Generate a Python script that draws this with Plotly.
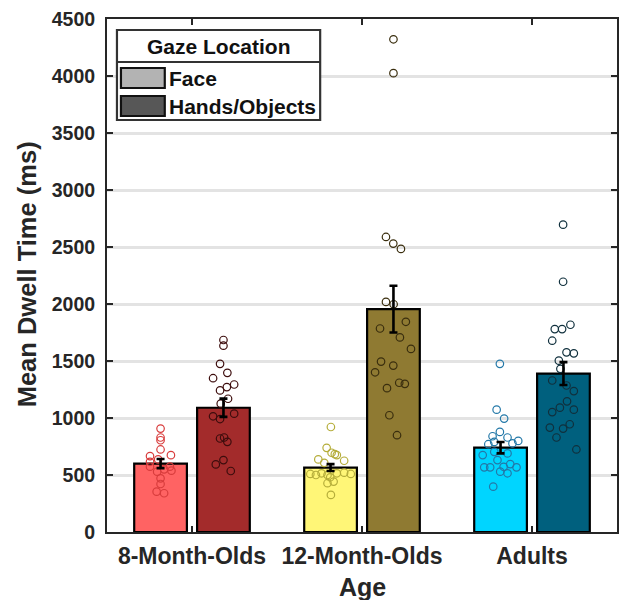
import plotly.graph_objects as go

# ---- data -------------------------------------------------------------
groups = ["8-Month-Olds", "12-Month-Olds", "Adults"]
y_ticks = [0, 500, 1000, 1500, 2000, 2500, 3000, 3500, 4000, 4500]

face_means = [600, 565, 740]
face_sem = [40, 30, 50]
hands_means = [1090, 1955, 1390]
hands_sem = [80, 205, 100]

# individual participants (ms) and their horizontal jitter (axis units)
face_8m = [907, 829, 805, 724, 666, 674, 637, 616, 573, 573, 529, 550, 538, 471, 421, 354, 340]
face_8m_jit = [0, 0, 0, 0, -0.062, 0.061, -0.014, -0.062, -0.062, 0.055, -0.02, 0.021, 0.064, 0, 0, -0.023, 0.021]
hands_8m = [1684, 1634, 1475, 1396, 1349, 1294, 1271, 1242, 1169, 1126, 1015, 991, 1038, 820, 829, 791, 631, 593, 535]
hands_8m_jit = [0, 0, -0.02, 0.023, -0.061, 0.063, 0.02, -0.02, 0.027, -0.016, -0.061, -0.02, 0.063, -0.02, 0.004, 0.023, 0, -0.045, 0.043]

face_12m = [921, 738, 695, 683, 675, 637, 625, 607, 509, 500, 515, 500, 515, 520, 509, 480, 442, 428, 325]
face_12m_jit = [0.002, -0.023, 0.006, 0.025, 0.037, -0.072, 0.08, -0.037, -0.119, -0.086, -0.053, -0.018, 0.037, 0.08, 0.119, -0.002, 0.018, -0.018, 0.002]
hands_12m = [4322, 4025, 2588, 2530, 2483, 2018, 1998, 1785, 1844, 1707, 1606, 1495, 1460, 1401, 1262, 1309, 1300, 1024, 849]
hands_12m_jit = [0, 0, -0.044, -0.001, 0.044, -0.044, 0.001, -0.079, 0.073, 0.038, 0.103, -0.073, -0.001, -0.108, -0.038, 0.034, 0.067, -0.024, 0.021]

face_ad = [1475, 1073, 995, 878, 840, 829, 799, 770, 790, 777, 675, 703, 689, 631, 567, 567, 572, 596, 567, 529, 515, 398]
face_ad_jit = [-0.004, -0.023, 0.021, -0.004, -0.047, 0.041, 0.104, -0.072, -0.037, 0.07, -0.105, -0.037, 0.041, -0.018, -0.096, -0.061, 0.018, 0.057, 0.094, -0.002, 0.041, -0.043]
hands_ad = [2696, 2195, 1780, 1780, 1818, 1678, 1576, 1567, 1503, 1431, 1329, 1285, 1236, 1146, 1091, 1052, 1073, 945, 907, 916, 829, 724]
hands_ad_jit = [-0.002, -0.002, -0.051, -0.008, 0.041, -0.066, 0.018, 0.061, -0.027, -0.018, -0.066, 0.018, 0.061, 0.021, -0.021, -0.066, 0.061, 0.037, -0.002, -0.08, -0.041, 0.076]

# ---- styling ----------------------------------------------------------
face_colors = ["#ff6363", "#fff677", "#00d5ff"]
hands_colors = ["#a32b2b", "#8f7a32", "#00607e"]
face_pt_colors = ["#d83c3c", "#b5ad3a", "#2378a8"]
hands_pt_colors = ["#3d0d0d", "#3a2e0e", "#10303d"]

BAR_W = 0.31
FACE_OFF = -0.34
HANDS_OFF = 0.03
face_ctr = FACE_OFF + BAR_W / 2
hands_ctr = HANDS_OFF + BAR_W / 2

FONT = "Liberation Sans"
AX = "#262626"

W, H = 622, 600
L, R, T, B = 107, 3, 19, 68
PW, PH = W - L - R, H - T - B

pos = [1, 2, 3]

fig = go.Figure()

fig.add_trace(go.Bar(
    x=pos, y=face_means, offset=FACE_OFF, width=BAR_W,
    marker=dict(color=face_colors, line=dict(color="black", width=2.2)),
    showlegend=False, hoverinfo="skip"))
fig.add_trace(go.Bar(
    x=pos, y=hands_means, offset=HANDS_OFF, width=BAR_W,
    marker=dict(color=hands_colors, line=dict(color="black", width=2.2)),
    showlegend=False, hoverinfo="skip"))

face_pts = [(face_8m, face_8m_jit), (face_12m, face_12m_jit), (face_ad, face_ad_jit)]
hands_pts = [(hands_8m, hands_8m_jit), (hands_12m, hands_12m_jit), (hands_ad, hands_ad_jit)]

for i, g in enumerate(pos):
    for (vals, jit), ctr, col in [(face_pts[i], face_ctr, face_pt_colors[i]),
                                   (hands_pts[i], hands_ctr, hands_pt_colors[i])]:
        fig.add_trace(go.Scatter(
            x=[g + ctr + j for j in jit], y=vals, mode="markers",
            marker=dict(symbol="circle-open", size=7.5, color=col,
                        line=dict(width=1.2, color=col)),
            showlegend=False, hoverinfo="skip"))

# standard-error bars on top of the points
fig.add_trace(go.Scatter(
    x=[g + face_ctr for g in pos] + [g + hands_ctr for g in pos],
    y=face_means + hands_means, mode="markers",
    marker=dict(size=1, opacity=0),
    error_y=dict(type="data", array=face_sem + hands_sem, color="black",
                 thickness=2.6, width=4),
    showlegend=False, hoverinfo="skip"))


def px_x(px):
    return (px - L) / PW


def px_y(py):
    return (H - B - py) / PH


# legend box drawn by hand
shapes = []
lg_l, lg_r, lg_t, lg_b, lg_sep = 117, 321, 30, 120, 62
shapes.append(dict(type="rect", xref="paper", yref="paper",
                   x0=px_x(lg_l), x1=px_x(lg_r), y0=px_y(lg_b), y1=px_y(lg_t),
                   fillcolor="white", line=dict(color="#333333", width=2.2), layer="above"))
shapes.append(dict(type="line", xref="paper", yref="paper",
                   x0=px_x(lg_l), x1=px_x(lg_r), y0=px_y(lg_sep), y1=px_y(lg_sep),
                   line=dict(color="#333333", width=2.2), layer="above"))
legend_items = [("Face", "#b3b3b3", 68, 88), ("Hands/Objects", "#575757", 96, 116)]
annotations = []
for label, col, top, bot in legend_items:
    shapes.append(dict(type="rect", xref="paper", yref="paper",
                       x0=px_x(121), x1=px_x(165), y0=px_y(bot), y1=px_y(top),
                       fillcolor=col, line=dict(color="#111111", width=2.2), layer="above"))
    annotations.append(dict(xref="paper", yref="paper", x=px_x(167), y=px_y((top + bot) / 2),
                            text=label, showarrow=False, xanchor="left", yanchor="middle",
                            font=dict(family=FONT, size=21, color="#111111", weight="bold")))
annotations.append(dict(xref="paper", yref="paper", x=px_x((lg_l + lg_r) / 2), y=px_y(46),
                        text="Gaze Location", showarrow=False, xanchor="center", yanchor="middle",
                        font=dict(family=FONT, size=21, color="#111111", weight="bold")))

# axis titles
annotations.append(dict(xref="paper", yref="paper", x=px_x(27), y=px_y(274),
                        text="Mean Dwell Time (ms)", showarrow=False, textangle=-90,
                        xanchor="center", yanchor="middle",
                        font=dict(family=FONT, size=25.5, color=AX, weight="bold")))
annotations.append(dict(xref="paper", yref="paper", x=px_x(363), y=px_y(587),
                        text="Age", showarrow=False, xanchor="center", yanchor="middle",
                        font=dict(family=FONT, size=25, color=AX, weight="bold")))

fig.update_layout(
    width=W, height=H,
    margin=dict(l=L, r=R, t=T, b=B),
    paper_bgcolor="white", plot_bgcolor="white",
    barmode="overlay",
    shapes=shapes, annotations=annotations,
    font=dict(family=FONT, color=AX),
)
fig.update_xaxes(
    range=[0.5, 3.5], tickvals=pos, ticktext=groups,
    showline=True, linecolor=AX, linewidth=2, mirror="ticks",
    ticks="inside", ticklen=6, tickwidth=2, tickcolor=AX,
    showgrid=False, zeroline=False, ticklabelstandoff=2,
    tickfont=dict(family=FONT, size=23, color=AX, weight="bold"))
fig.update_yaxes(
    range=[0, 4500], tickvals=y_ticks,
    showline=True, linecolor=AX, linewidth=2, mirror="ticks",
    ticks="inside", ticklen=6, tickwidth=2, tickcolor=AX,
    showgrid=True, gridcolor="#e3e3e3", gridwidth=2.5, zeroline=False,
    ticklabelstandoff=6,
    tickfont=dict(family=FONT, size=19.5, color=AX, weight="bold"))

fig.write_html("out.html")
